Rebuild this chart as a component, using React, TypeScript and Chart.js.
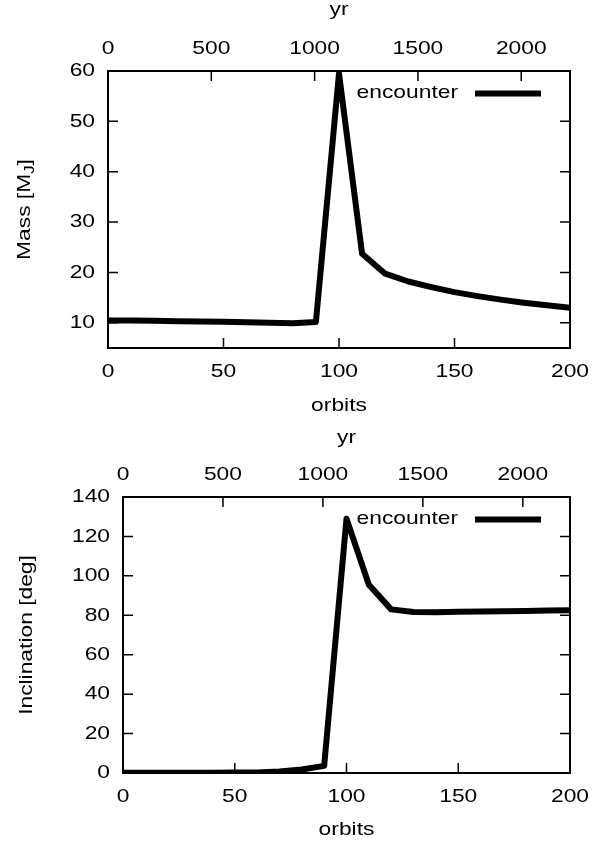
import React, { useEffect, useRef } from "react";
import { Chart, registerables } from "chart.js";

Chart.register(...registerables);

// ---------- data ----------
const orbits = [0, 10, 20, 30, 40, 50, 60, 70, 80, 90, 100, 110, 120, 130, 140, 150, 160, 170, 180, 190, 200];
const massMJ = [10.45, 10.45, 10.4, 10.3, 10.25, 10.2, 10.1, 10.0, 9.9, 10.15, 59.5, 23.7, 19.75, 18.2, 17.1, 16.1, 15.3, 14.6, 14.0, 13.5, 13.0];
const inclinationDeg = [0.1, 0.1, 0.1, 0.1, 0.15, 0.2, 0.3, 0.8, 1.8, 3.6, 129, 95.5, 83, 81.7, 81.6, 81.8, 81.9, 82.0, 82.2, 82.4, 82.5];

const orbitRange = [0, 200];
const orbitTicks = [0, 50, 100, 150, 200];
const yrRange = [0, 2236];
const yrTicks = [0, 500, 1000, 1500, 2000];
const massRange = [5, 60];
const massTicks = [10, 20, 30, 40, 50, 60];
const inclinationRange = [0, 140];
const inclinationTicks = [0, 20, 40, 60, 80, 100, 120, 140];

const seriesLabel = "encounter";
const bottomTitle = "orbits";
const topTitle = "yr";

// ---------- style ----------
const FONT_FAMILY = "'Liberation Sans', Arial, Helvetica, sans-serif";
const FONT_SIZE = 19;
const SUB_SIZE = 14;
const STRETCH = 1.2; // glyphs in the original are drawn wide
const W = 601;
const H = 423;

type Area = { left: number; top: number; right: number; bottom: number };
type PanelSpec = {
  values: number[];
  yRange: number[];
  yTicks: number[];
  yTitle: string;
  ySub: string;
  ySuffix: string;
  yTitleX: number;
  area: Area;
  topTitlePad: number;
  bottomTitlePad: number;
};

// draws every text widened along its own direction
const stretchPlugin = {
  id: "stretchText",
  beforeDraw(chart: any) {
    const ctx = chart.ctx as any;
    if (ctx.__stretched) return;
    const orig = CanvasRenderingContext2D.prototype.fillText;
    ctx.__stretched = true;
    ctx.fillText = function (text: string, x: number, y: number, maxWidth?: number) {
      this.save();
      this.translate(x, y);
      this.scale(STRETCH, 1);
      if (maxWidth === undefined || maxWidth === null) orig.call(this, text, 0, 0);
      else orig.call(this, text, 0, 0, maxWidth / STRETCH);
      this.restore();
    };
  },
};

const framePlugin = {
  id: "frame",
  afterDatasetsDraw(chart: any) {
    const { ctx, chartArea } = chart;
    const { left, top, right, bottom } = chartArea;
    const len = 10;
    ctx.save();
    ctx.strokeStyle = "#000";
    ctx.lineWidth = 1.5;
    ctx.beginPath();
    const xs = chart.scales.x;
    const x2 = chart.scales.x2;
    const ys = chart.scales.y;
    for (const t of xs.ticks) {
      const px = xs.getPixelForValue(t.value);
      if (px <= left + 1 || px >= right - 1) continue;
      ctx.moveTo(px, bottom);
      ctx.lineTo(px, bottom - len);
    }
    for (const t of x2.ticks) {
      const px = x2.getPixelForValue(t.value);
      if (px <= left + 1 || px >= right - 1) continue;
      ctx.moveTo(px, top);
      ctx.lineTo(px, top + len);
    }
    for (const t of ys.ticks) {
      const py = ys.getPixelForValue(t.value);
      if (py <= top + 1 || py >= bottom - 1) continue;
      ctx.moveTo(left, py);
      ctx.lineTo(left + len, py);
      ctx.moveTo(right, py);
      ctx.lineTo(right - len, py);
    }
    ctx.stroke();
    ctx.lineWidth = 2;
    ctx.strokeRect(left, top, right - left, bottom - top);
    ctx.restore();
  },
};

const legendPlugin = {
  id: "innerLegend",
  afterDraw(chart: any) {
    const ds = chart.data.datasets[0];
    const { ctx, chartArea } = chart;
    const y = chartArea.top + 22.5;
    const x1 = chartArea.right - 95;
    const x2 = chartArea.right - 29;
    ctx.save();
    ctx.font = `${FONT_SIZE}px ${FONT_FAMILY}`;
    ctx.fillStyle = "#000";
    ctx.textAlign = "right";
    ctx.textBaseline = "middle";
    ctx.fillText(ds.label, x1 - 17, y - 1);
    ctx.strokeStyle = ds.borderColor;
    ctx.lineWidth = ds.borderWidth;
    ctx.lineCap = "butt";
    ctx.beginPath();
    ctx.moveTo(x1, y);
    ctx.lineTo(x2, y);
    ctx.stroke();
    ctx.restore();
  },
};

function makeYTitlePlugin(spec: PanelSpec) {
  return {
    id: "yTitle",
    afterDraw(chart: any) {
      const { ctx, chartArea } = chart;
      const cy = (chartArea.top + chartArea.bottom) / 2;
      const mainFont = `${FONT_SIZE}px ${FONT_FAMILY}`;
      const subFont = `${SUB_SIZE}px ${FONT_FAMILY}`;
      ctx.save();
      ctx.font = mainFont;
      const w1 = ctx.measureText(spec.yTitle).width * STRETCH;
      const w3 = spec.ySuffix ? ctx.measureText(spec.ySuffix).width * STRETCH : 0;
      ctx.font = subFont;
      const w2 = spec.ySub ? ctx.measureText(spec.ySub).width * STRETCH : 0;
      const total = w1 + w2 + w3;
      ctx.translate(spec.yTitleX, cy);
      ctx.rotate(-Math.PI / 2);
      ctx.fillStyle = "#000";
      ctx.textAlign = "left";
      ctx.textBaseline = "middle";
      let x = -total / 2;
      ctx.font = mainFont;
      ctx.fillText(spec.yTitle, x, 0);
      x += w1;
      if (spec.ySub) {
        ctx.font = subFont;
        ctx.fillText(spec.ySub, x, 5);
        x += w2;
      }
      if (spec.ySuffix) {
        ctx.font = mainFont;
        ctx.fillText(spec.ySuffix, x, 0);
      }
      ctx.restore();
    },
  };
}

const useTicks = (values: number[]) => (scale: any) => {
  scale.ticks = values.map((v) => ({ value: v }));
};
const plainLabel = (v: any) => String(v);

function buildChart(canvas: HTMLCanvasElement, spec: PanelSpec) {
  const a = spec.area;
  const tickFont = { family: FONT_FAMILY, size: FONT_SIZE, lineHeight: 1.2 };
  const titleFont = { family: FONT_FAMILY, size: FONT_SIZE, lineHeight: 1 };
  const noGrid = { display: false, drawTicks: false };
  return new Chart(canvas, {
    type: "line",
    data: {
      datasets: [
        {
          label: seriesLabel,
          data: orbits.map((x, i) => ({ x, y: spec.values[i] })),
          borderColor: "#000",
          backgroundColor: "#000",
          borderWidth: 6,
          pointRadius: 0,
          tension: 0,
          borderJoinStyle: "round",
          borderCapStyle: "butt",
          fill: false,
        },
      ],
    },
    options: {
      responsive: false,
      animation: false,
      devicePixelRatio: 1,
      layout: { padding: { left: 0, top: 0, right: W - a.right, bottom: 0 } },
      plugins: { legend: { display: false }, tooltip: { enabled: false } },
      scales: {
        x: {
          type: "linear",
          position: "bottom",
          min: orbitRange[0],
          max: orbitRange[1],
          afterBuildTicks: useTicks(orbitTicks),
          afterFit: (s: any) => {
            s.height = H - a.bottom;
          },
          grid: noGrid,
          border: { display: false },
          ticks: { font: tickFont, color: "#000", padding: 12, maxRotation: 0, autoSkip: false, callback: plainLabel },
          title: { display: true, text: bottomTitle, font: titleFont, color: "#000", padding: { top: 0, bottom: spec.bottomTitlePad } },
        },
        x2: {
          type: "linear",
          position: "top",
          min: yrRange[0],
          max: yrRange[1],
          afterBuildTicks: useTicks(yrTicks),
          afterFit: (s: any) => {
            s.height = a.top;
          },
          grid: noGrid,
          border: { display: false },
          ticks: { font: tickFont, color: "#000", padding: 11, maxRotation: 0, autoSkip: false, callback: plainLabel },
          title: { display: true, text: topTitle, font: titleFont, color: "#000", padding: { top: spec.topTitlePad, bottom: 0 } },
        },
        y: {
          type: "linear",
          position: "left",
          min: spec.yRange[0],
          max: spec.yRange[1],
          afterBuildTicks: useTicks(spec.yTicks),
          afterFit: (s: any) => {
            s.width = a.left;
          },
          grid: noGrid,
          border: { display: false },
          ticks: { font: tickFont, color: "#000", padding: 13, autoSkip: false, callback: plainLabel },
          title: { display: false },
        },
      },
    } as any,
    plugins: [stretchPlugin, framePlugin, legendPlugin, makeYTitlePlugin(spec)],
  });
}

const massSpec: PanelSpec = {
  values: massMJ,
  yRange: massRange,
  yTicks: massTicks,
  yTitle: "Mass [M",
  ySub: "J",
  ySuffix: "]",
  yTitleX: 25,
  area: { left: 108, top: 71, right: 570, bottom: 348 },
  topTitlePad: 0,
  bottomTitlePad: 8,
};

const inclinationSpec: PanelSpec = {
  values: inclinationDeg,
  yRange: inclinationRange,
  yTicks: inclinationTicks,
  yTitle: "Inclination [deg]",
  ySub: "",
  ySuffix: "",
  yTitleX: 27,
  area: { left: 123, top: 74, right: 570, bottom: 350 },
  topTitlePad: 5,
  bottomTitlePad: 7,
};

function Panel({ spec, top }: { spec: PanelSpec; top: number }) {
  const ref = useRef<HTMLCanvasElement>(null);
  useEffect(() => {
    const chart = buildChart(ref.current as HTMLCanvasElement, spec);
    return () => chart.destroy();
  }, [spec]);
  return (
    <canvas
      ref={ref}
      width={W}
      height={H}
      style={{ position: "absolute", left: 0, top, width: W, height: H, display: "block" }}
    />
  );
}

export default function App() {
  return (
    <div style={{ position: "absolute", left: 0, top: 0, width: W, height: 846, background: "#fff" }}>
      <Panel spec={massSpec} top={0} />
      <Panel spec={inclinationSpec} top={423} />
    </div>
  );
}
